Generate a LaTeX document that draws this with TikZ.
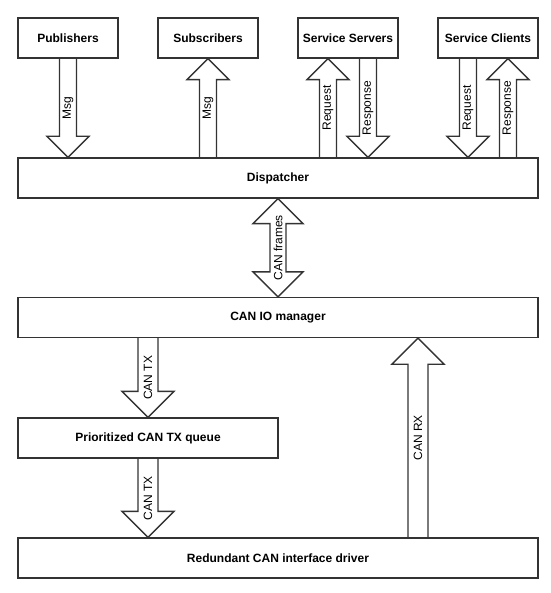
\documentclass[tikz,border=0pt]{standalone}
\usepackage{fontspec}
\setmainfont{Liberation Sans}
\usetikzlibrary{calc}
\definecolor{ln}{HTML}{333333}
\pgfdeclarelayer{bg}
\pgfsetlayers{bg,main}
\tikzset{
  box/.style={draw=ln, line width=1.4pt, fill=white, font=\bfseries\fontsize{12}{14}\selectfont, minimum height=40pt, inner sep=0pt},
  fat/.style={draw=ln, line width=1.4pt, fill=white, line join=miter},
  lbl/.style={font=\fontsize{12}{14}\selectfont, rotate=90, inner sep=0pt},
}
% #1 start, #2 tip, #3 shaft half width, #4 head half width, #5 head length, #6 label name, #7 label text
\newcommand\fatarr[7]{%
  \filldraw[fat] let \p1=(#1), \p2=(#2), \n1={sign(\y2-\y1)*#5} in
    ({\x1-#3pt},\y1) -- ({\x1-#3pt},{\y2-\n1*1pt}) -- ({\x1-#4pt},{\y2-\n1*1pt}) -- (\x2,\y2)
    -- ({\x1+#4pt},{\y2-\n1*1pt}) -- ({\x1+#3pt},{\y2-\n1*1pt}) -- ({\x1+#3pt},\y1);
  \node[lbl] (#6) at ($(#1)!0.5!(#2)$) {#7};}
% double arrow: #1 tip one, #2 tip two
\newcommand\fatdbl[7]{%
  \filldraw[fat] let \p1=(#1), \p2=(#2), \n1={sign(\y2-\y1)*#5} in
    (\x1,\y1) -- ({\x1-#4pt},{\y1+\n1*1pt}) -- ({\x1-#3pt},{\y1+\n1*1pt}) -- ({\x1-#3pt},{\y2-\n1*1pt})
    -- ({\x1-#4pt},{\y2-\n1*1pt}) -- (\x2,\y2) -- ({\x1+#4pt},{\y2-\n1*1pt}) -- ({\x1+#3pt},{\y2-\n1*1pt})
    -- ({\x1+#3pt},{\y1+\n1*1pt}) -- ({\x1+#4pt},{\y1+\n1*1pt}) -- cycle;
  \node[lbl] (#6) at ($(#1)!0.5!(#2)$) {#7};}
\begin{document}
\begin{tikzpicture}[x=1pt,y=-1pt]
\useasboundingbox (0,0) rectangle (550,593);
% boxes
\node[box, minimum width=100pt] (pub) at (68,38) {Publishers};
\node[box, minimum width=100pt] (sub) at (208,38) {Subscribers};
\node[box, minimum width=100pt] (srv) at (348,38) {Service Servers};
\node[box, minimum width=100pt] (cli) at (488,38) {Service Clients};
\node[box, minimum width=520pt] (disp) at (278,178) {Dispatcher};
\node[box, minimum width=520pt] (canio) at (278,317.5) {CAN IO manager};
\node[box, minimum width=260pt] (queue) at (148,438) {Prioritized CAN TX queue};
\node[box, minimum width=520pt] (drv) at (278,558) {Redundant CAN interface driver};
% anchor coordinates
\coordinate (pubB) at (pub.south |- disp.north);
\coordinate (subB) at (sub.south |- disp.north);
\coordinate (srvReqT) at ($(srv.south)+(-20,0)$);
\coordinate (srvReqB) at (srvReqT |- disp.north);
\coordinate (srvResT) at ($(srv.south)+(20,0)$);
\coordinate (srvResB) at (srvResT |- disp.north);
\coordinate (cliReqT) at ($(cli.south)+(-20,0)$);
\coordinate (cliReqB) at (cliReqT |- disp.north);
\coordinate (cliResT) at ($(cli.south)+(20,0)$);
\coordinate (cliResB) at (cliResT |- disp.north);
\coordinate (txT) at (queue.north |- canio.south);
\coordinate (txB) at (queue.south |- drv.north);
\coordinate (rxB) at ($(drv.north)+(140,0)$);
\coordinate (rxT) at (rxB |- canio.south);
\begin{pgfonlayer}{bg}
\fill[white] (0,0) rectangle (550,593);
\fatarr{pub.south}{pubB}{8.5}{21}{21}{lPub}{Msg}
\fatarr{subB}{sub.south}{8.5}{21}{21}{lSub}{Msg}
\fatarr{srvReqB}{srvReqT}{8.5}{21}{21}{lSrvReq}{Request}
\fatarr{srvResT}{srvResB}{8.5}{21}{21}{lSrvRes}{Response}
\fatarr{cliReqT}{cliReqB}{8.5}{21}{21}{lCliReq}{Request}
\fatarr{cliResB}{cliResT}{8.5}{21}{21}{lCliRes}{Response}
\fatdbl{disp.south}{canio.north}{8}{25}{25}{lFrames}{CAN frames}
\fatarr{txT}{queue.north}{10}{26}{26}{lTx1}{CAN TX}
\fatarr{queue.south}{txB}{10}{26}{26}{lTx2}{CAN TX}
\fatarr{rxB}{rxT}{10}{26}{26}{lRx}{CAN RX}
\end{pgfonlayer}
\end{tikzpicture}
\end{document}
